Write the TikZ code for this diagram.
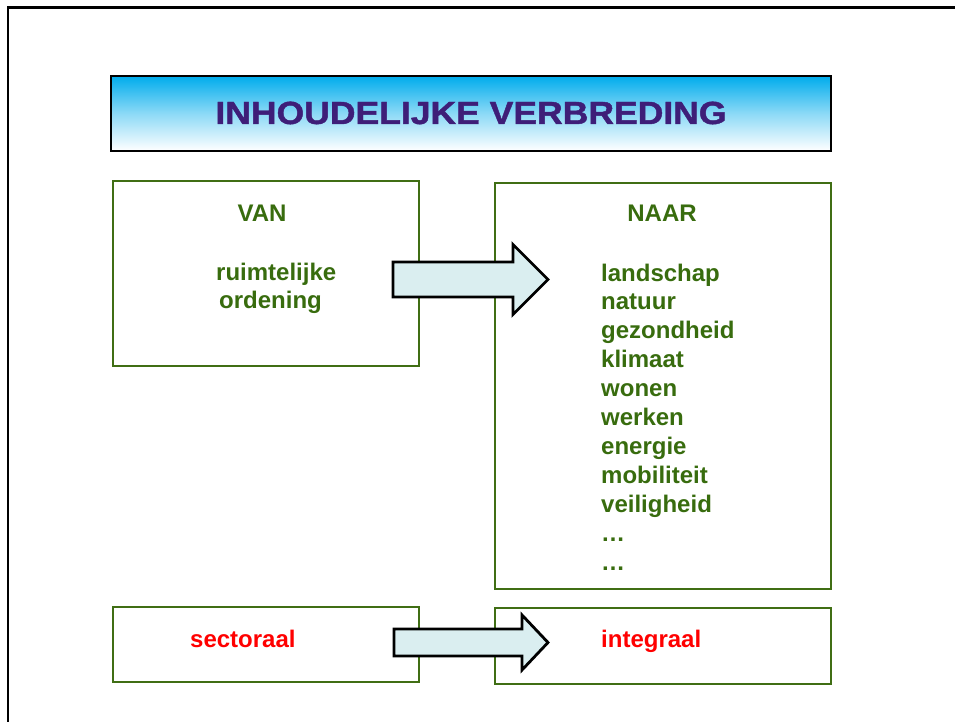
\documentclass[tikz,border=0pt]{standalone}
\usepackage{fontspec}
\setmainfont{Liberation Sans}
\newfontfamily\heavyfont{Liberation Sans}[BoldFont={Liberation Sans Bold},BoldFeatures={FakeBold=1.3}]
\definecolor{boxgreen}{RGB}{64,110,20}
\definecolor{txtgreen}{RGB}{56,108,14}
\definecolor{titlepurple}{RGB}{62,30,120}
\definecolor{arrowfill}{RGB}{218,238,240}
\definecolor{cyantop}{RGB}{0,172,236}
\begin{document}
\begin{tikzpicture}[x=1pt,y=-1pt,
  greenbox/.style={draw=boxgreen,line width=2.8pt},
  gtext/.style={inner sep=0pt,anchor=base west,text=txtgreen,font=\fontsize{24}{28.8}\selectfont\bfseries},
  rtext/.style={inner sep=0pt,anchor=base west,text=red,font=\fontsize{24}{28.8}\selectfont\bfseries},
  blockarrow/.style={draw=black,fill=arrowfill,line width=2.8pt,line join=miter}]
\useasboundingbox (0,0) rectangle (955,722);
% outer frame (only left and top visible)
\draw[line width=2.8pt] (8,722) -- (8,7.5) -- (955,7.5);
% title
\shade[top color=cyantop,bottom color=white,middle color=cyantop!45!white] (111,76) rectangle (831,151);
\draw[line width=2.8pt] (111,76) rectangle (831,151);
\node[inner sep=0pt,anchor=base,text=titlepurple,font=\heavyfont\fontsize{32}{38}\selectfont\bfseries] (title) at (471,124) {\scalebox{1.11}[1]{INHOUDELIJKE VERBREDING}};
% boxes
\draw[greenbox] (113,181) rectangle (419,366);
\draw[greenbox] (495,183) rectangle (831,589);
\draw[greenbox] (113,607) rectangle (419,682);
\draw[greenbox] (495,608) rectangle (831,684);
% texts
\node[gtext,anchor=base] (van) at (262,222) {VAN};
\node[gtext] (ruimt) at (216,280) {ruimtelijke};
\node[gtext] (orden) at (219,308) {ordening};
\node[gtext,anchor=base] (naar) at (662,222) {NAAR};
\foreach \t [count=\i from 0] in {landschap,natuur,gezondheid,klimaat,wonen,werken,energie,mobiliteit,veiligheid,\dots,\dots}
  \node[gtext] (item\i) at (601,281+28.9*\i) {\t};
\node[rtext] (sect) at (190,647) {sectoraal};
\node[rtext] (integ) at (601,647) {integraal};
% block arrows
\draw[blockarrow] (393,262) -- (513,262) -- (513,244.5) -- (548,279.5) -- (513,314.5) -- (513,297) -- (393,297) -- cycle;
\draw[blockarrow] (394,629) -- (522,629) -- (522,615) -- (548,642.5) -- (522,670) -- (522,656) -- (394,656) -- cycle;
\end{tikzpicture}
\end{document}
